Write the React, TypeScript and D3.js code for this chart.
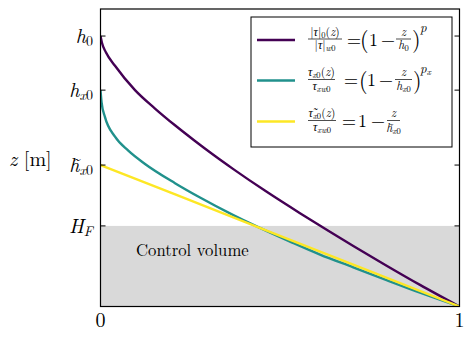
import React from 'react';
import * as d3 from 'd3';

// stress ratio (x) and height z / h0 (y)
const purpleRatio = [0, 0.004, 0.015, 0.0404, 0.0961, 0.1518, 0.2075, 0.2632, 0.3142, 0.37, 0.463, 0.5557, 0.6345, 0.7042, 0.797, 0.89, 1];
const purpleZ = [1.0, 0.975, 0.94, 0.89, 0.8, 0.732, 0.67, 0.612, 0.561, 0.508, 0.424, 0.345, 0.28, 0.224, 0.151, 0.08, 0];

const tealRatio = [0, 0.003, 0.0125, 0.0404, 0.0774, 0.124, 0.2075, 0.2772, 0.37, 0.435, 0.528, 0.6114, 0.704, 0.797, 0.89, 1];
const tealZ = [0.8, 0.755, 0.7, 0.628, 0.576, 0.527, 0.456, 0.403, 0.338, 0.296, 0.24, 0.192, 0.145, 0.0975, 0.051, 0];

const yellowRatio = [0, 0.5, 1];
const yellowZ = [0.523, 0.2615, 0];

const yTickValues = [1.0, 0.8, 0.523, 0.298];
const yTickBase = ['h', 'h', 'h\u0303', 'H'];
const yTickSub = ['0', 'x0', 'x0', 'F'];
const xTicks = [0, 1];
const controlVolumeTop = 0.298;

const FONT = '"Latin Modern Roman", "Liberation Serif", serif';
const ts = { fontFamily: FONT };
const greek = { fontFamily: '"Liberation Serif", serif', fontStyle: 'italic' };
const colors = ['#440154', '#21918c', '#fde725'];

const W = 475;
const H = 341;
const left = 100.5, right = 459.5, top = 9, bottom = 306.5;

const I = ({ children }: any) => <tspan fontStyle="italic">{children}</tspan>;
const Tau = ({ tilde }: any) => <tspan style={greek}>{tilde ? 'τ\u0303' : 'τ'}</tspan>;

// small fraction used in the legend formulas
const Frac = ({ x1, x2, num, den, fs = 12, denY = 10 }: any) => (
  <g>
    <text x={(x1 + x2) / 2} y={-3.5} fontSize={fs} textAnchor="middle" style={ts}>{num}</text>
    <line x1={x1} x2={x2} y1={0} y2={0} stroke="black" strokeWidth={0.7} />
    <text x={(x1 + x2) / 2} y={denY} fontSize={fs} textAnchor="middle" style={ts}>{den}</text>
  </g>
);

const Big = ({ x, children, fs = 18, dy = 6.5 }: any) => (
  <text x={x} y={dy} fontSize={fs} style={ts}>{children}</text>
);

const App = () => {
  const x = d3.scaleLinear().domain([0, 1]).range([left, right]);
  const y = d3.scaleLinear().domain([0, 1.1]).range([bottom, top]);

  const line = d3
    .line<[number, number]>()
    .x(d => x(d[0]))
    .y(d => y(d[1]))
    .curve(d3.curveMonotoneX);

  const series = [
    d3.zip(purpleRatio, purpleZ),
    d3.zip(tealRatio, tealZ),
    d3.zip(yellowRatio, yellowZ),
  ] as [number, number][][];

  // legend rows (y of the fraction bar)
  const rowY = [39, 79.5, 120.5];

  return (
    <svg width={W} height={H} style={{ position: 'absolute', left: 0, top: 0, fontFamily: FONT }}>
      <rect x={0} y={0} width={W} height={H} fill="white" />
      <defs>
        <clipPath id="plot">
          <rect x={left} y={top} width={right - left} height={bottom - top} />
        </clipPath>
      </defs>

      {/* control volume */}
      <rect
        x={x(0)}
        y={y(controlVolumeTop)}
        width={x(1) - x(0)}
        height={y(0) - y(controlVolumeTop)}
        fill="#d9d9d9"
      />
      <text x={136} y={256} fontSize={16.7} style={ts}>Control volume</text>

      <g clipPath="url(#plot)">
        {series.map((s, i) => (
          <path key={i} d={line(s) || ''} fill="none" stroke={colors[i]} strokeWidth={2.4} />
        ))}
      </g>

      {/* frame */}
      <rect x={left} y={top} width={right - left} height={bottom - top} fill="none" stroke="black" strokeWidth={1.2} />

      {/* y ticks, both sides, inward */}
      {yTickValues.map((v, i) => (
        <g key={i}>
          <line x1={left} x2={left + 5} y1={y(v)} y2={y(v)} stroke="black" strokeWidth={1} />
          <line x1={right - 5} x2={right} y1={y(v)} y2={y(v)} stroke="black" strokeWidth={1} />
          <text x={93} y={y(v) + 7.3} fontSize={20} textAnchor="end" style={ts}>
            <I>{yTickBase[i]}</I>
            <tspan dy={2.5} fontSize={14}>
              {yTickSub[i] === 'x0' ? <><I>x</I>0</> : yTickSub[i] === 'F' ? <I>F</I> : yTickSub[i]}
            </tspan>
          </text>
        </g>
      ))}

      {xTicks.map(t => (
        <text key={t} x={x(t)} y={326.5} fontSize={20} textAnchor="middle" style={ts}>{t}</text>
      ))}

      <text x={9} y={166} fontSize={20} style={ts}>
        <I>z</I> [m]
      </text>

      {/* legend */}
      <rect x={251} y={17} width={201} height={130} fill="white" stroke="black" strokeWidth={1} />
      {rowY.map((ry, i) => (
        <line key={i} x1={257} x2={295} y1={ry + 1} y2={ry + 1} stroke={colors[i]} strokeWidth={2.4} />
      ))}

      {/* row 1 */}
      <g transform={`translate(308,${rowY[0]})`}>
        <Frac
          x1={0}
          x2={34}
          num={<>|<Tau />|<tspan dy={2} fontSize={8.5}>0</tspan><tspan dy={-2}>(</tspan><I>z</I>)</>}
          den={<>|<Tau />|<tspan dy={2} fontSize={8.5}><I>w</I>0</tspan></>}
        />
        <Big x={39}>=</Big>
        <Big x={52} fs={22} dy={8}>(</Big>
        <Big x={61}>1</Big>
        <Big x={73}>−</Big>
        <Frac x1={88} x2={103} num={<I>z</I>} den={<><I>h</I><tspan dy={2} fontSize={8.5}>0</tspan></>} />
        <Big x={104} fs={22} dy={8}>)</Big>
        <Big x={112} fs={13} dy={-7}><I>p</I></Big>
      </g>

      {/* row 2 */}
      <g transform={`translate(308,${rowY[1]})`}>
        <Frac
          x1={0}
          x2={27}
          num={<><Tau /><tspan dy={2} fontSize={8.5}><I>x</I>0</tspan><tspan dy={-2}>(</tspan><I>z</I>)</>}
          den={<><Tau /><tspan dy={2} fontSize={8.5}><I>xw</I>0</tspan></>}
        />
        <Big x={36}>=</Big>
        <Big x={51} fs={22} dy={8}>(</Big>
        <Big x={59}>1</Big>
        <Big x={71}>−</Big>
        <Frac x1={87} x2={104} num={<I>z</I>} den={<><I>h</I><tspan dy={2} fontSize={8.5}><I>x</I>0</tspan></>} />
        <Big x={105} fs={22} dy={8}>)</Big>
        <Big x={112} fs={13} dy={-7}>
          <I>p</I><tspan dy={2.5} fontSize={9}><I>x</I></tspan>
        </Big>
      </g>

      {/* row 3 */}
      <g transform={`translate(308,${rowY[2]})`}>
        <Frac
          x1={0}
          x2={28}
          num={<><Tau tilde /><tspan dy={2} fontSize={8.5}><I>x</I>0</tspan><tspan dy={-2}>(</tspan><I>z</I>)</>}
          den={<><Tau /><tspan dy={2} fontSize={8.5}><I>xw</I>0</tspan></>}
        />
        <Big x={34}>=</Big>
        <Big x={50}>1</Big>
        <Big x={63}>−</Big>
        <Frac
          x1={79}
          x2={92}
          denY={11}
          num={<I>z</I>}
          den={<><I>{'h\u0303'}</I><tspan dy={2} fontSize={8.5}><I>x</I>0</tspan></>}
        />
      </g>
    </svg>
  );
};

export default App;
